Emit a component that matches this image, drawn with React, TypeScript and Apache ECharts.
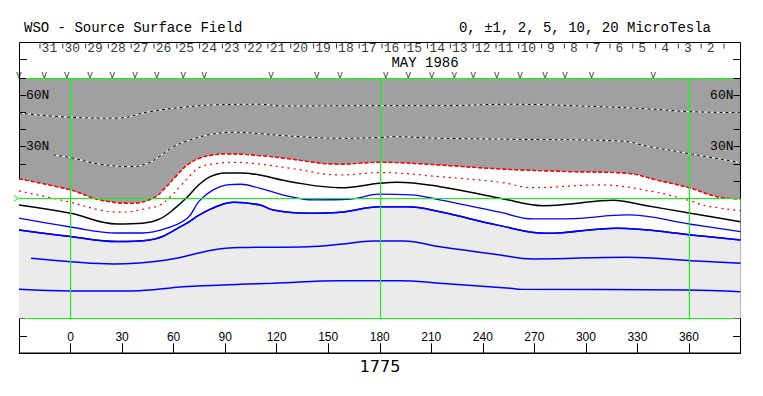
import React, { useEffect, useRef } from "react";
import * as echarts from "echarts";

// Contours: [Carrington longitude (deg), latitude (deg)]
const CONTOUR_P10: number[][] = [[-30,49.5],[0,47.1],[27,46.6],[46,50.4],[66,53.0],[83,54.3],[110,54.7],[124,53.7],[180,53.9],[215,53.9],[256,54.7],[308,53.3],[336,52.0],[361,50.4],[390,49.8]];
const CONTOUR_P5: number[][] = [[-10,25.2],[0,23.6],[17,19.8],[35,18.4],[45,20.3],[52,24.5],[60,30.0],[68,33.3],[80,36.8],[95,38.4],[110,37.6],[124,36.4],[157,34.9],[180,35.3],[188,35.8],[215,34.9],[256,34.3],[320,33.3],[337,30.0],[361,25.8],[390,20.7]];
const CONTOUR_P2: number[][] = [[-30,11.2],[0,4.8],[17,-1.0],[35,-3.0],[48,-0.1],[55,5.9],[62,13.5],[68,19.3],[75,23.3],[83,25.2],[91,25.8],[110,24.8],[124,23.3],[157,19.8],[180,20.9],[215,19.3],[250,17.0],[289,15.5],[324,14.5],[341,10.6],[361,5.8],[376,0.9],[390,-0.5]];
const CONTOUR_P1: number[][] = [[-30,4.2],[0,-2.4],[17,-6.9],[29,-8.2],[45,-5.9],[52,-4.0],[58,0.7],[64,7.1],[70,13.5],[75,17.9],[83,19.9],[95,20.9],[110,19.8],[128,17.4],[157,13.5],[180,14.9],[215,12.5],[250,9.3],[269,6.1],[308,7.7],[339,3.8],[361,-1.6],[370,-4.5],[390,-7.3]];
const CONTOUR_0: number[][] = [[-30,-4.0],[0,-8.8],[27,-15.0],[42,-14.6],[52,-12.1],[61,-5.7],[68,0.7],[74,7.1],[81,12.4],[90,14.7],[99,14.7],[110,13.5],[128,9.6],[157,6.1],[180,8.7],[190,9.3],[215,6.7],[250,0],[275,-4.4],[289,-3.6],[316,-1.2],[333,-4.0],[361,-8.8],[390,-13.7]];
const CONTOUR_M1: number[][] = [[-30,-11.7],[0,-16.8],[27,-20.3],[42,-20.3],[56,-17.5],[68,-11.7],[75,-1.6],[83,4.8],[91,7.7],[99,8.1],[110,5.8],[128,0.9],[141,-1.0],[163,-0.5],[180,2.3],[198,1.9],[215,-1.0],[250,-8.2],[269,-12.1],[289,-12.1],[324,-9.8],[361,-15.2],[390,-19.5]];
const CONTOUR_M2: number[][] = [[-30,-18.5],[0,-22.4],[27,-25.3],[46,-24.4],[66,-15.6],[75,-9.8],[85,-4.9],[95,-2.4],[110,-3.9],[118,-6.9],[138,-8.8],[157,-8.2],[180,-5.0],[196,-5.0],[215,-7.9],[250,-16.0],[277,-20.5],[318,-17.5],[361,-21.4],[390,-24.4]];
const CONTOUR_M5: number[][] = [[-23,-35.0],[0,-37.0],[25,-38.3],[56,-36.0],[83,-30.2],[99,-28.8],[138,-28.3],[157,-26.9],[176,-24.9],[194,-24.9],[215,-28.3],[250,-33.1],[269,-35.4],[324,-34.4],[361,-36.4],[390,-37.9]];
const CONTOUR_M10: number[][] = [[-30,-53.1],[0,-54.1],[36,-54.1],[66,-51.6],[99,-50.2],[118,-49.6],[157,-48.1],[192,-48.1],[215,-49.6],[256,-52.5],[262,-53.1],[359,-53.5],[390,-54.5]];

// Header: days of May 1986 and their longitudes
const DAY_LABELS: number[] = [31,30,29,28,27,26,25,24,23,22,21,20,19,18,17,16,15,14,13,12,11,10,9,8,7,6,5,4,3,2];
const DAY_LON: number[] = [-12.3,1.0,14.3,27.6,40.8,54.1,67.4,80.7,93.9,107.2,120.5,133.7,147.0,160.3,173.6,186.8,200.1,213.4,226.6,239.9,253.2,266.5,279.7,293.0,306.3,319.5,332.8,346.1,359.4,372.6];
const DAY_TICK_LON: number[] = [-17.8,-4.5,8.8,22.0,35.3,48.6,61.9,75.1,88.4,101.7,114.9,128.2,141.5,154.8,168.0,181.3,194.6,207.8,221.1,234.4,247.7,260.9,274.2,287.5,300.7,314.0,327.3,340.6,353.8,367.1,380.4];
const OBS_LON: number[] = [-30,-15.3,-2.2,11.3,24.3,37.5,50.2,65.6,77.9,116.7,143.3,156.9,183.5,196.6,210.2,223.4,234.5,248.1,261.6,276.2,287.8,303.3,339.2];

const LAT_TICK_VALUES: number[] = [60, 30, -30, -60];
const LAT_TICK_TEXT: string[] = ["60N", "30N", "30S", "60S"];
const LON_MIN = -30;
const LON_MAX = 390;
const GREEN_LON: number[] = [0, 180, 360];

const MONO = '"Liberation Mono", "DejaVu Sans Mono", monospace';

function latFmt(v: number) {
  const i = LAT_TICK_VALUES.indexOf(v);
  return i >= 0 ? LAT_TICK_TEXT[i] : "";
}

function contour(name: string, data: number[][], color: string, width: number, type: any, extra: any = {}) {
  return {
    type: "line",
    name,
    data,
    xAxisIndex: 0,
    yAxisIndex: 0,
    symbol: "none",
    showSymbol: false,
    smooth: 0.4,
    silent: true,
    lineStyle: { color, width, type },
    ...extra,
  };
}

function yAxisCfg(position: "left" | "right") {
  return {
    type: "value",
    gridIndex: 0,
    position,
    min: -70,
    max: 70,
    interval: 10,
    axisLine: { show: true, onZero: false, lineStyle: { color: "#000", width: 1 } },
    axisTick: { show: true, inside: true, length: 7, lineStyle: { color: "#000" } },
    axisLabel: { show: true, inside: true, margin: 7, formatter: latFmt, fontFamily: MONO, fontSize: 13, color: "#000" },
    splitLine: { show: false },
  };
}

export default function App() {
  const ref = useRef<HTMLDivElement>(null);
  useEffect(() => {
    document.body.style.margin = "0";
    const chart = echarts.init(ref.current!, null, { renderer: "svg" });
    const option: any = {
      animation: false,
      backgroundColor: "#fff",
      grid: [
        { left: 19, right: 22.5, top: 78, bottom: 77.7, show: true, backgroundColor: "#a0a0a0", borderWidth: 0, outerBoundsMode: "none" },
        { left: 19, right: 22.5, top: 42.5, height: 35.5, show: false, outerBoundsMode: "none" },
      ],
      xAxis: [
        {
          type: "value", gridIndex: 0, min: LON_MIN, max: LON_MAX, interval: 30, position: "bottom", offset: 35,
          axisLine: { show: true, onZero: false, lineStyle: { color: "#000" } },
          axisTick: { show: true, inside: true, length: 10, lineStyle: { color: "#000" } },
          axisLabel: {
            show: true, inside: true, margin: 10, fontFamily: '"Liberation Sans", sans-serif', fontSize: 12, color: "#000",
            formatter: (v: number) => (v < 0 || v > 360 ? "" : String(v)),
          },
          splitLine: { show: false },
        },
        { type: "value", gridIndex: 1, min: LON_MIN, max: LON_MAX, show: false, axisLine: { onZero: false } },
      ],
      yAxis: [
        yAxisCfg("left"),
        yAxisCfg("right"),
        { type: "value", gridIndex: 1, min: 0, max: 1, show: false, axisLine: { onZero: false } },
      ],
      series: [
        contour("+2 fill", CONTOUR_P2, "#ff0000", 1.2, [4, 2], { areaStyle: { color: "#ffffff", opacity: 1, origin: "start" } }),
        contour("-2", CONTOUR_M2, "#0000ff", 1.5, "solid", {
          areaStyle: { color: "#ebebeb", opacity: 1, origin: "start" },
          markLine: {
            silent: true,
            symbol: ["none", "none"],
            label: { show: false },
            lineStyle: { color: "#00ff00", width: 1, type: "solid" },
            data: [
              ...GREEN_LON.map((v) => ({ xAxis: v })),
              { yAxis: 0 },
              [{ coord: [-25.3, 70] }, { coord: [385.7, 70] }],
              [{ coord: [-25.3, -70] }, { coord: [385.7, -70] }],
            ],
          },
        }),
        contour("+2", CONTOUR_P2, "#ff0000", 1.2, [4, 2]),
        contour("-2 line", CONTOUR_M2, "#0000ff", 1.5, "solid"),
        contour("+10 base", CONTOUR_P10, "#ffffff", 1, "solid"),
        contour("+10", CONTOUR_P10, "#000000", 1, [3, 3]),
        contour("+5 base", CONTOUR_P5, "#ffffff", 1, "solid"),
        contour("+5", CONTOUR_P5, "#000000", 1, [3, 3]),
        contour("+1", CONTOUR_P1, "#ff0000", 1.2, [2, 4]),
        contour("0", CONTOUR_0, "#000000", 1.5, "solid"),
        contour("-1", CONTOUR_M1, "#0000ff", 1.3, "solid"),
        contour("-5", CONTOUR_M5, "#0000ff", 1.5, "solid"),
        contour("-10", CONTOUR_M10, "#0000ff", 1.5, "solid"),
        {
          type: "scatter", name: "dayTicks", xAxisIndex: 1, yAxisIndex: 2, symbol: "rect", symbolSize: [1, 5], clip: false, silent: true,
          itemStyle: { color: "#000" },
          data: DAY_TICK_LON.map((lon) => [lon, 0.9]),
        },
        {
          type: "scatter", name: "days", xAxisIndex: 1, yAxisIndex: 2, symbolSize: 0, clip: false, silent: true,
          data: DAY_LON.map((lon, i) => ({ value: [lon, 0.835], name: String(DAY_LABELS[i]) })),
          label: { show: true, position: "inside", formatter: "{b}", fontFamily: MONO, fontSize: 13, lineHeight: 12, color: "#000" },
        },
        {
          type: "scatter", name: "obs", xAxisIndex: 1, yAxisIndex: 2, symbolSize: 0, clip: false, silent: true,
          data: OBS_LON.map((lon) => [lon, 0.06]),
          label: { show: true, position: "inside", formatter: "v", fontFamily: MONO, fontSize: 10, lineHeight: 9, color: "#000" },
        },
      ],
      graphic: [
        { type: "rect", silent: true, shape: { x: 19.5, y: 42.5, width: 721, height: 310.5 }, style: { fill: "none", stroke: "#000", lineWidth: 1 } },
        { type: "line", silent: true, shape: { x1: 19.5, y1: 59.5, x2: 27, y2: 59.5 }, style: { stroke: "#000", lineWidth: 1 } },
        { type: "line", silent: true, shape: { x1: 733, y1: 59.5, x2: 740.5, y2: 59.5 }, style: { stroke: "#000", lineWidth: 1 } },
        { type: "line", silent: true, shape: { x1: 19.5, y1: 336.5, x2: 27, y2: 336.5 }, style: { stroke: "#000", lineWidth: 1 } },
        { type: "line", silent: true, shape: { x1: 733, y1: 336.5, x2: 740.5, y2: 336.5 }, style: { stroke: "#000", lineWidth: 1 } },
        { type: "polyline", silent: true, shape: { points: [[14, 195.5], [18.5, 198.3], [14, 201]] }, style: { stroke: "#00ff00", lineWidth: 1, fill: "none" } },
        { type: "text", silent: true, x: 24, y: 27.5, style: { text: "WSO - Source Surface Field", font: `14px ${MONO}`, fill: "#000", align: "left", verticalAlign: "middle" } },
        { type: "text", silent: true, x: 711, y: 27.5, style: { text: "0, \u00b11, 2, 5, 10, 20 MicroTesla", font: `14px ${MONO}`, fill: "#000", align: "right", verticalAlign: "middle" } },
        { type: "text", silent: true, x: 425, y: 63, style: { text: "MAY 1986", font: `14px ${MONO}`, lineHeight: 13, fill: "#000", align: "center", verticalAlign: "middle" } },
        { type: "text", silent: true, x: 380, y: 366, style: { text: "1775", font: '16px "DejaVu Sans", sans-serif', fill: "#000", align: "center", verticalAlign: "middle" } },
      ],
    };
    chart.setOption(option);
    return () => chart.dispose();
  }, []);
  return <div ref={ref} style={{ position: "relative", width: 763, height: 396, background: "#fff" }} />;
}
